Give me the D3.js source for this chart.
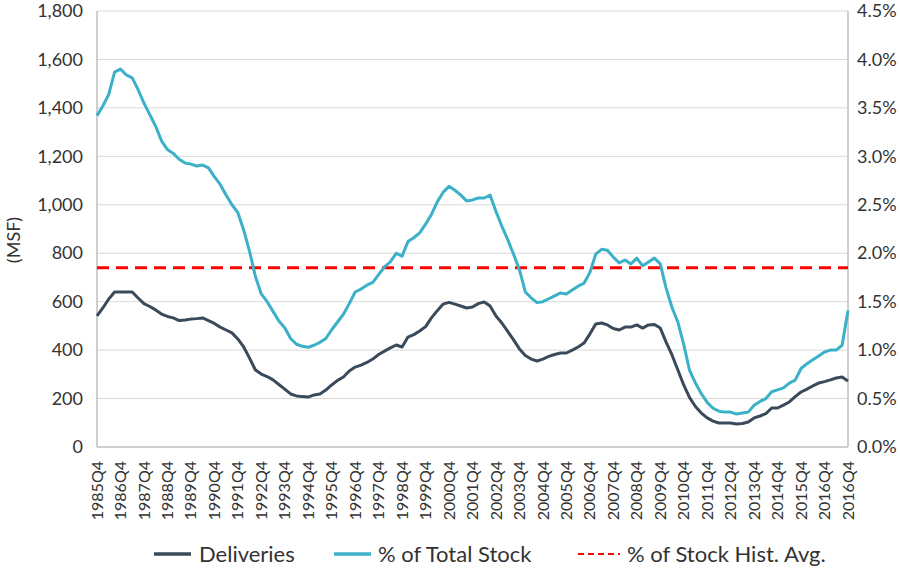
<!DOCTYPE html>
<html>
<head>
<meta charset="utf-8">
<script src="https://cdn.jsdelivr.net/npm/d3@7"></script>
<style>
  html, body { margin: 0; padding: 0; background: #ffffff; }
  svg { display: block; }
  text { font-family: Lato, "Open Sans", sans-serif; fill: #333333; }
</style>
</head>
<body>
<svg id="chart" width="900" height="580"></svg>
<script>
// ---- data ----
const xTickLabels = ["1985Q4","1986Q4","1987Q4","1988Q4","1989Q4","1990Q4","1991Q4","1992Q4",
  "1993Q4","1994Q4","1995Q4","1996Q4","1997Q4","1998Q4","1999Q4","2000Q4","2001Q4","2002Q4",
  "2003Q4","2004Q4","2005Q4","2006Q4","2007Q4","2008Q4","2009Q4","2010Q4","2011Q4","2012Q4",
  "2013Q4","2014Q4","2015Q4","2016Q4","2016Q4"];

const deliveries = [541,574,611,640,640,640,640,615,592,580,
  566,549,539,533,522,524,528,530,533,522,
  510,495,483,471,446,413,367,318,301,291,
  277,258,239,219,211,208,206,215,219,235,
  256,275,289,314,330,338,349,363,382,396,
  409,421,413,454,464,479,497,533,563,590,
  597,590,582,574,578,592,599,582,541,512,
  477,442,405,378,363,355,363,374,382,388,
  388,400,413,429,466,508,512,504,489,483,
  495,495,504,491,504,506,491,433,380,318,
  256,204,167,140,120,107,99,99,99,95,
  97,103,120,128,138,161,161,173,186,208,
  227,239,252,264,270,277,285,289,272];

const pctOfStock = [3.42,3.52,3.64,3.87,3.90,3.84,3.81,3.69,3.55,3.43,
  3.31,3.16,3.07,3.03,2.97,2.93,2.92,2.90,2.91,2.88,
  2.79,2.71,2.60,2.50,2.42,2.24,2.02,1.76,1.58,1.50,
  1.40,1.30,1.23,1.12,1.06,1.04,1.03,1.05,1.08,1.12,
  1.21,1.29,1.37,1.48,1.60,1.63,1.67,1.70,1.78,1.86,
  1.91,2.00,1.97,2.12,2.16,2.21,2.30,2.40,2.53,2.63,
  2.69,2.65,2.60,2.54,2.55,2.57,2.57,2.60,2.43,2.28,
  2.14,1.99,1.83,1.60,1.54,1.49,1.50,1.53,1.56,1.59,
  1.58,1.62,1.66,1.69,1.80,1.99,2.04,2.03,1.96,1.90,
  1.93,1.89,1.95,1.87,1.91,1.95,1.89,1.64,1.44,1.29,
  1.06,0.79,0.66,0.55,0.46,0.40,0.37,0.36,0.36,0.34,
  0.35,0.36,0.43,0.47,0.50,0.57,0.59,0.61,0.66,0.69,
  0.81,0.86,0.90,0.94,0.98,1.00,1.00,1.05,1.41];

const histAvgPct = 1.85;
const leftTicks = [0,200,400,600,800,1000,1200,1400,1600,1800];
const rightTicks = [0,0.5,1.0,1.5,2.0,2.5,3.0,3.5,4.0,4.5];
const legendLabels = ["Deliveries", "% of Total Stock", "% of Stock Hist. Avg."];

// ---- layout ----
const svg = d3.select("#chart");
const m = { left: 97, right: 848, top: 11, bottom: 447 };
const colDel = "#3b4a5b", colPct = "#3bb0c9", colAvg = "#ff0000";
const tickEvery = 4;

const x = d3.scaleLinear().domain([0, deliveries.length - 1]).range([m.left, m.right]);
const yL = d3.scaleLinear().domain([0, 1800]).range([m.bottom, m.top]);
const yR = d3.scaleLinear().domain([0, 4.5]).range([m.bottom, m.top]);

// gridlines
svg.append("g").selectAll("line").data(leftTicks.slice(1)).join("line")
  .attr("x1", m.left).attr("x2", m.right)
  .attr("y1", d => yL(d)).attr("y2", d => yL(d))
  .attr("stroke", "#d9d9d9").attr("stroke-width", 1);

// frame lines
svg.append("line").attr("x1", m.left).attr("x2", m.left).attr("y1", m.top).attr("y2", m.bottom)
  .attr("stroke", "#bfbfbf").attr("stroke-width", 1.5);
svg.append("line").attr("x1", m.right).attr("x2", m.right).attr("y1", m.top).attr("y2", m.bottom)
  .attr("stroke", "#bfbfbf").attr("stroke-width", 1.5);
svg.append("line").attr("x1", m.left).attr("x2", m.right).attr("y1", m.bottom).attr("y2", m.bottom)
  .attr("stroke", "#bfbfbf").attr("stroke-width", 1.5);

// left axis
const axL = svg.append("g").attr("transform", `translate(${m.left},0)`)
  .call(d3.axisLeft(yL).tickValues(leftTicks).tickFormat(d3.format(",")).tickSize(0).tickPadding(14));
axL.select(".domain").remove();
axL.selectAll("text").attr("font-size", 18).style("fill", "#333");

// right axis
const axR = svg.append("g").attr("transform", `translate(${m.right},0)`)
  .call(d3.axisRight(yR).tickValues(rightTicks).tickFormat(d => d3.format(".1f")(d) + "%").tickSize(0).tickPadding(9));
axR.select(".domain").remove();
axR.selectAll("text").attr("font-size", 18).style("fill", "#333");

// x axis labels
const xIdx = d3.range(0, deliveries.length, tickEvery);
svg.append("g").selectAll("text").data(xIdx).join("text")
  .attr("transform", d => `translate(${x(d)},${m.bottom + 14}) rotate(-90)`)
  .attr("text-anchor", "end").attr("dy", "0.35em")
  .attr("font-size", 16)
  .text((d, i) => xTickLabels[i]);

// y title
svg.append("text").attr("transform", "translate(14,240) rotate(-90)")
  .attr("text-anchor", "middle").attr("dy", "0.35em").attr("font-size", 18).text("(MSF)");

// average line
svg.append("line").attr("x1", m.left).attr("x2", m.right)
  .attr("y1", yR(histAvgPct)).attr("y2", yR(histAvgPct))
  .attr("stroke", colAvg).attr("stroke-width", 3).attr("stroke-dasharray", "12,7");

// series
const lineDel = d3.line().x((d, i) => x(i)).y(d => yL(d));
const linePct = d3.line().x((d, i) => x(i)).y(d => yR(d));
svg.append("path").datum(deliveries).attr("d", lineDel)
  .attr("fill", "none").attr("stroke", colDel).attr("stroke-width", 3).attr("stroke-linejoin", "round");
svg.append("path").datum(pctOfStock).attr("d", linePct)
  .attr("fill", "none").attr("stroke", colPct).attr("stroke-width", 3).attr("stroke-linejoin", "round");

// legend
const legY = 554;
const legItems = [
  { label: legendLabels[0], color: colDel, dash: null, x0: 154, x1: 191, tx: 199 },
  { label: legendLabels[1], color: colPct, dash: null, x0: 334, x1: 371, tx: 378 },
  { label: legendLabels[2], color: colAvg, dash: "6,4", x0: 578, x1: 620, tx: 627 }
];
const lg = svg.append("g").selectAll("g").data(legItems).join("g");
lg.append("line").attr("x1", d => d.x0).attr("x2", d => d.x1).attr("y1", legY).attr("y2", legY)
  .attr("stroke", d => d.color).attr("stroke-width", d => d.dash ? 2 : 3.5)
  .attr("stroke-dasharray", d => d.dash);
lg.append("text").attr("x", d => d.tx).attr("y", legY).attr("dy", "0.35em")
  .attr("font-size", 22).text(d => d.label);
</script>
</body>
</html>
